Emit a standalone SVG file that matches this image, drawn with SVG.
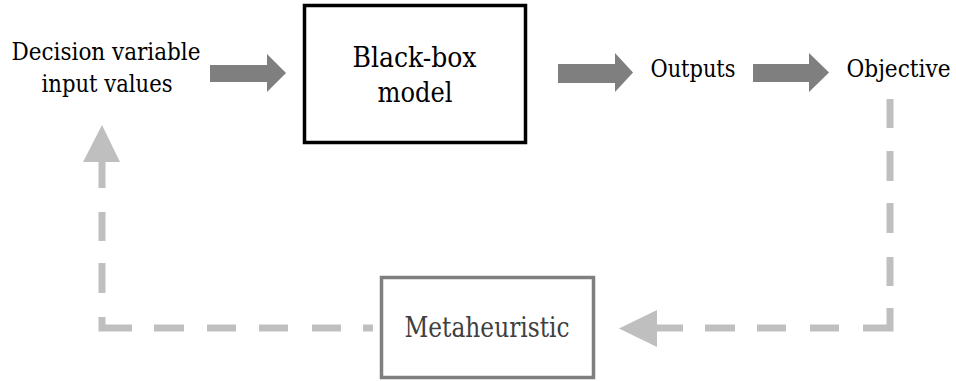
<svg xmlns="http://www.w3.org/2000/svg" width="956" height="381" viewBox="0 0 956 381">
<style>
text{font-family:"DejaVu Serif Condensed","DejaVu Serif",serif;font-stretch:condensed;text-anchor:middle;fill:#000;}
.s{font-size:24px;}
.b{font-size:27px;}
.dark{fill:#7f7f7f;}
.light{fill:none;stroke:#bfbfbf;stroke-width:7;stroke-linejoin:miter;}
.lighthead{fill:#bfbfbf;}
</style>
<rect width="956" height="381" fill="#fff"/>
<g id="input">
<text class="s" x="106" y="60" textLength="189" lengthAdjust="spacingAndGlyphs">Decision variable</text>
<text class="s" x="107" y="92" textLength="131" lengthAdjust="spacingAndGlyphs">input values</text>
</g>
<g id="blackbox">
<rect x="304.5" y="5.5" width="221" height="137" fill="#fff" stroke="#000" stroke-width="3.5"/>
<text class="b" x="414.5" y="67" textLength="124" lengthAdjust="spacingAndGlyphs">Black-box</text>
<text class="b" x="415" y="102" textLength="75" lengthAdjust="spacingAndGlyphs">model</text>
</g>
<g id="outputs">
<text class="s" x="693" y="77" textLength="85" lengthAdjust="spacingAndGlyphs">Outputs</text>
</g>
<g id="objective">
<text class="s" x="898.5" y="77" textLength="104" lengthAdjust="spacingAndGlyphs">Objective</text>
</g>
<g id="metaheuristic">
<rect x="381.5" y="277.5" width="212" height="100" fill="#fff" stroke="#7f7f7f" stroke-width="3.5"/>
<text class="b" x="487" y="337" textLength="165" lengthAdjust="spacingAndGlyphs" style="fill:#404040">Metaheuristic</text>
</g>
<g id="connectors">
<polygon class="dark" points="210,65 267,65 267,54 286,73 267,92 267,82 210,82"/>
<polygon class="dark" points="558,64 615,64 615,53 633,72.5 615,92 615,83 558,83"/>
<polygon class="dark" points="753,64 809,64 809,53 829,72.5 809,92 809,82 753,82"/>
<path class="light" d="M890,99V128M890,151V181M890,203V233M890,257V286M890,308V328H863M839,328H810M786,328H757M735,328H705M683,328H655"/>
<polygon class="lighthead" points="657,310 657,347 619,328.5"/>
<path class="light" d="M373,328H363M341,328H312M288,328H259M236,328H207M184,328H154M132,328H102V317M102,293V263M102,241V212M102,188V160"/>
<polygon class="lighthead" points="83,162 120,162 102,125"/>
</g>
</svg>
